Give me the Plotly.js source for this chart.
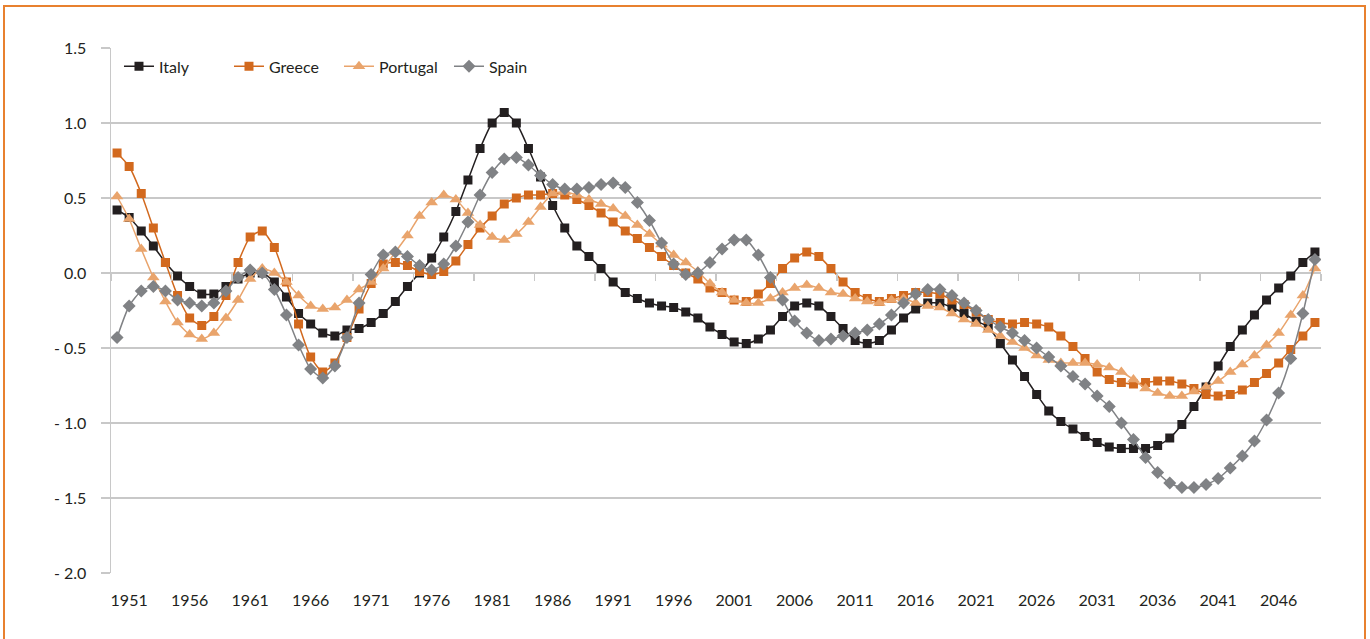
<!DOCTYPE html>
<html>
<head>
<meta charset="utf-8">
<script src="https://cdn.plot.ly/plotly-3.0.1.min.js"></script>
<style>
  html, body { margin: 0; padding: 0; background: #ffffff; }
  #chart { width: 1370px; height: 639px; }
  #frame { position: absolute; left: 3px; top: 5px; width: 1359px; height: 700px;
           border: 2px solid #E8812F; pointer-events: none; }
</style>
</head>
<body>
<div id="chart"></div>
<div id="frame"></div>
<script>
// ---- data (1950 .. 2049) ----
const firstYear = 1950;
const italy = [0.42,0.37,0.28,0.18,0.07,-0.02,-0.09,-0.14,-0.14,-0.09,
  -0.04,0.00,0.00,-0.06,-0.16,-0.27,-0.34,-0.40,-0.42,-0.38,
  -0.37,-0.33,-0.27,-0.19,-0.09,0.00,0.10,0.24,0.41,0.62,
  0.83,1.00,1.07,1.00,0.83,0.64,0.45,0.30,0.18,0.11,
  0.03,-0.06,-0.13,-0.17,-0.20,-0.22,-0.23,-0.26,-0.30,-0.36,
  -0.41,-0.46,-0.47,-0.44,-0.38,-0.29,-0.22,-0.20,-0.22,-0.29,
  -0.37,-0.45,-0.47,-0.45,-0.38,-0.30,-0.24,-0.20,-0.20,-0.23,
  -0.27,-0.32,-0.36,-0.47,-0.58,-0.69,-0.81,-0.92,-0.99,-1.04,
  -1.09,-1.13,-1.16,-1.17,-1.17,-1.17,-1.15,-1.10,-1.01,-0.89,
  -0.76,-0.62,-0.49,-0.38,-0.28,-0.18,-0.10,-0.02,0.07,0.14];
const greece = [0.80,0.71,0.53,0.30,0.07,-0.15,-0.30,-0.35,-0.29,-0.15,
  0.07,0.24,0.28,0.17,-0.06,-0.34,-0.56,-0.66,-0.60,-0.43,
  -0.24,-0.07,0.06,0.07,0.05,0.01,-0.01,0.01,0.08,0.19,
  0.30,0.38,0.46,0.50,0.52,0.52,0.53,0.52,0.49,0.45,
  0.40,0.34,0.28,0.23,0.17,0.11,0.05,0.00,-0.04,-0.10,
  -0.13,-0.18,-0.19,-0.14,-0.07,0.03,0.10,0.14,0.11,0.03,
  -0.06,-0.13,-0.17,-0.19,-0.17,-0.15,-0.13,-0.13,-0.14,-0.18,
  -0.21,-0.26,-0.31,-0.33,-0.34,-0.33,-0.34,-0.36,-0.42,-0.49,
  -0.57,-0.66,-0.71,-0.73,-0.74,-0.73,-0.72,-0.72,-0.74,-0.77,
  -0.81,-0.82,-0.81,-0.78,-0.73,-0.67,-0.60,-0.51,-0.42,-0.33];
const portugal = [0.51,0.36,0.16,-0.03,-0.19,-0.33,-0.41,-0.44,-0.40,-0.30,
  -0.18,-0.04,0.03,0.00,-0.06,-0.15,-0.22,-0.24,-0.23,-0.18,
  -0.11,-0.06,0.03,0.14,0.25,0.38,0.47,0.52,0.49,0.40,
  0.32,0.24,0.22,0.26,0.34,0.44,0.53,0.54,0.52,0.49,
  0.46,0.43,0.38,0.32,0.26,0.19,0.12,0.07,0.01,-0.07,
  -0.13,-0.18,-0.20,-0.20,-0.17,-0.13,-0.10,-0.08,-0.10,-0.13,
  -0.14,-0.17,-0.19,-0.20,-0.18,-0.17,-0.20,-0.22,-0.23,-0.27,
  -0.31,-0.34,-0.38,-0.42,-0.46,-0.50,-0.55,-0.58,-0.60,-0.60,
  -0.60,-0.61,-0.63,-0.66,-0.71,-0.77,-0.80,-0.82,-0.82,-0.79,
  -0.76,-0.72,-0.66,-0.61,-0.55,-0.48,-0.40,-0.28,-0.15,0.03];
const spain = [-0.43,-0.22,-0.12,-0.09,-0.12,-0.18,-0.20,-0.22,-0.20,-0.12,
  -0.03,0.02,0.00,-0.11,-0.28,-0.48,-0.64,-0.70,-0.62,-0.43,
  -0.20,-0.01,0.12,0.14,0.11,0.05,0.02,0.06,0.18,0.34,
  0.52,0.67,0.76,0.77,0.72,0.65,0.59,0.56,0.56,0.57,
  0.59,0.60,0.57,0.47,0.35,0.20,0.06,-0.01,0.00,0.07,
  0.16,0.22,0.22,0.12,-0.03,-0.18,-0.32,-0.40,-0.45,-0.44,
  -0.42,-0.40,-0.38,-0.34,-0.28,-0.20,-0.14,-0.11,-0.11,-0.15,
  -0.20,-0.25,-0.31,-0.36,-0.40,-0.45,-0.50,-0.56,-0.62,-0.69,
  -0.74,-0.82,-0.89,-1.00,-1.11,-1.23,-1.33,-1.40,-1.43,-1.43,
  -1.41,-1.37,-1.30,-1.22,-1.12,-0.98,-0.80,-0.57,-0.27,0.09];
const years = italy.map((_, i) => firstYear + i);

const xTickVals = [1951,1956,1961,1966,1971,1976,1981,1986,1991,1996,2001,2006,2011,2016,2021,2026,2031,2036,2041,2046];
const xTickText = ["1951","1956","1961","1966","1971","1976","1981","1986","1991","1996","2001","2006","2011","2016","2021","2026","2031","2036","2041","2046"];
const yTickVals = [-2,-1.5,-1,-0.5,0,0.5,1,1.5];
const yTickText = ["- 2.0","- 1.5","- 1.0","- 0.5","0.0","0.5","1.0","1.5"];
// category boundaries (every 5 categories) for the small ticks on the zero line
const boundaryTicks = [];
for (let k = 0; k <= years.length; k += 5) boundaryTicks.push(firstYear - 0.5 + k);

const gridCol = '#C8C8C8';
const fontFam = 'Lato, "Open Sans", sans-serif';
const fontSize = 16;

function series(name, y, color, symbol, size) {
  return {
    type: 'scatter', mode: 'lines+markers', name: name, x: years, y: y,
    line: { color: color, width: 1.5, shape: 'spline', smoothing: 0.6 },
    marker: { symbol: symbol, size: size, color: color, line: { width: 0 } },
    hoverinfo: 'x+y+name'
  };
}

const traces = [
  series('Italy', italy, '#231F20', 'square', 9),
  series('Greece', greece, '#D2691E', 'square', 9),
  series('Portugal', portugal, '#E9A46C', 'triangle-up', 11),
  series('Spain', spain, '#808285', 'diamond', 10),
  { type: 'scatter', mode: 'markers', x: [years[0]], y: [0], xaxis: 'x2',
    marker: { opacity: 0, size: 1 }, showlegend: false, hoverinfo: 'skip' }
];

const layout = {
  width: 1370, height: 639,
  margin: { l: 111, r: 49, t: 48, b: 66 },
  paper_bgcolor: '#ffffff', plot_bgcolor: '#ffffff',
  font: { family: fontFam, size: fontSize, color: '#231F20' },
  showlegend: true,
  legend: {
    orientation: 'h', x: 0.0066, xanchor: 'left', y: 0.965, yanchor: 'middle',
    bgcolor: 'rgba(0,0,0,0)', font: { family: fontFam, size: fontSize, color: '#231F20' },
    entrywidth: 65, entrywidthmode: 'pixels', traceorder: 'normal'
  },
  xaxis: {
    range: [firstYear - 0.5, firstYear - 0.5 + years.length],
    tickmode: 'array', tickvals: xTickVals, ticktext: xTickText,
    ticks: '', showgrid: false, zeroline: false, showline: false,
    ticklabelstandoff: 16,
    tickfont: { family: fontFam, size: fontSize, color: '#231F20' }
  },
  xaxis2: {
    overlaying: 'x', anchor: 'free', position: 2 / 3.5, side: 'bottom',
    range: [firstYear - 0.5, firstYear - 0.5 + years.length],
    tickmode: 'array', tickvals: boundaryTicks, ticks: 'outside', ticklen: 7,
    tickwidth: 1.5, tickcolor: gridCol, showticklabels: false,
    showgrid: false, zeroline: false, showline: false
  },
  yaxis: {
    range: [-2, 1.5], tickmode: 'array', tickvals: yTickVals, ticktext: yTickText,
    showgrid: true, gridcolor: gridCol, gridwidth: 1.5,
    ticks: 'outside', ticklen: 9, tickwidth: 1.5, tickcolor: gridCol,
    showline: true, linecolor: gridCol, linewidth: 1.5, zeroline: false,
    ticklabelstandoff: 11,
    tickfont: { family: fontFam, size: fontSize, color: '#231F20' }
  }
};

Plotly.newPlot('chart', traces, layout, { displayModeBar: false, staticPlot: true });
</script>
</body>
</html>
